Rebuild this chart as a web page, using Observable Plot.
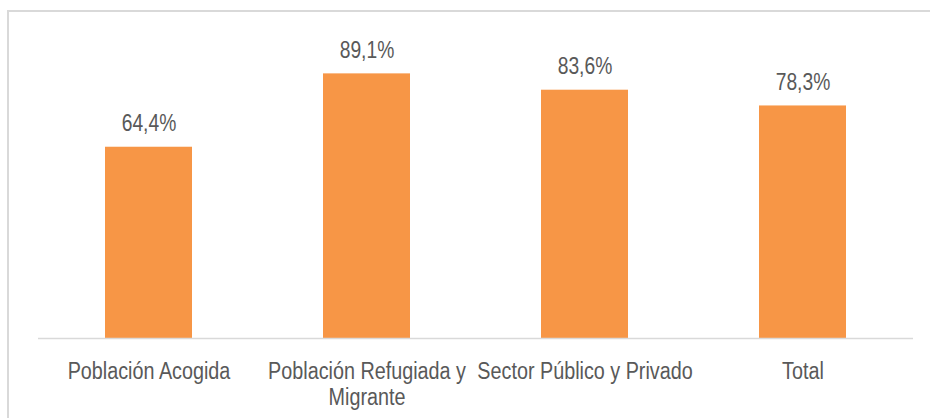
<!DOCTYPE html>
<html>
<head>
<meta charset="utf-8">
<script src="https://cdn.jsdelivr.net/npm/d3@7"></script>
<script src="https://cdn.jsdelivr.net/npm/@observablehq/plot@0.6"></script>
<style>
  html, body { margin: 0; padding: 0; background: #fff; }
  #wrap { position: relative; width: 930px; height: 418px; overflow: hidden; }
  #frame { position: absolute; left: 7px; top: 10px; width: 1000px; height: 1000px;
           border-left: 2px solid #d9d9d9; border-top: 2px solid #d9d9d9; pointer-events: none; }
</style>
</head>
<body>
<div id="wrap"><div id="frame"></div></div>
<script>
const categories = ["Población Acogida", "Población Refugiada y Migrante", "Sector Público y Privado", "Total"];
const values = [64.4, 89.1, 83.6, 78.3];
const valueLabels = ["64,4%", "89,1%", "83,6%", "78,3%"];

const data = categories.map((c, i) => ({cat: c, v: values[i], label: valueLabels[i]}));

const chart = Plot.plot({
  width: 930,
  height: 418,
  marginLeft: 38,
  marginRight: 17,
  marginTop: 41,
  marginBottom: 80,
  style: {fontFamily: '"Liberation Sans", Arial, sans-serif', background: "transparent"},
  x: {domain: categories, paddingInner: 0.6, paddingOuter: 0.3, axis: null},
  y: {domain: [0, 100], axis: null},
  marks: [
    Plot.barY(data, {x: "cat", y: "v", fill: "#F79646"}),
    Plot.ruleY([0], {stroke: "#d9d9d9", strokeWidth: 1.5}),
    Plot.text(data, {x: "cat", y: "v", text: "label", lineAnchor: "bottom", dy: -16, fontSize: 23.5, fill: "#595959", className: "vlab"}),
    Plot.text(data, {x: "cat", y: 0, text: "cat", lineAnchor: "top", dy: 22, fontSize: 23, fill: "#595959", lineWidth: 13.5, lineHeight: 1.13, className: "clab"})
  ]
});
// emulate a narrow (condensed) face: squeeze glyphs horizontally around each anchor
function squeeze(sel, k) {
  d3.select(chart).selectAll(sel).each(function() {
    const t = this.getAttribute("transform");
    if (t) this.setAttribute("transform", `${t} scale(${k},1)`);
  });
}
squeeze(".vlab text", 0.82);
squeeze(".clab text", 0.86);
document.getElementById("wrap").prepend(chart);
</script>
</body>
</html>
